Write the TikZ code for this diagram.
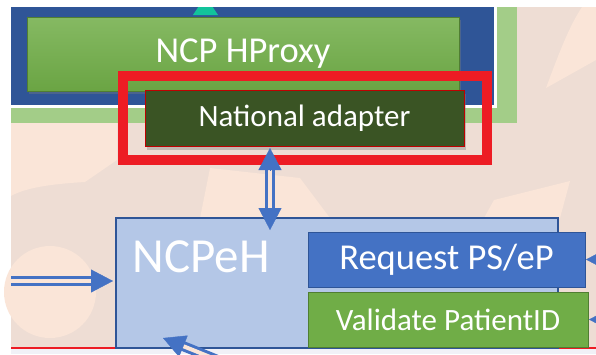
\documentclass[tikz,border=0pt]{standalone}
\usepackage{fontspec}
\setmainfont{Carlito}
\usetikzlibrary{arrows.meta,shadows,calc}
\definecolor{bgbeige}{HTML}{EEDDD4}
\definecolor{bglight}{HTML}{FAE5D8}
\definecolor{bglow}{HTML}{F1F1F7}
\definecolor{navy}{HTML}{2F5597}
\definecolor{palegreen}{HTML}{A3CD88}
\definecolor{grass}{HTML}{70AD47}
\definecolor{grassedge}{HTML}{507E32}
\definecolor{forest}{HTML}{3A5424}
\definecolor{alarm}{HTML}{ED1C24}
\definecolor{paleblue}{HTML}{B4C7E7}
\definecolor{midblue}{HTML}{4472C4}
\definecolor{tealtip}{HTML}{12C39B}
\tikzset{
  box/.style={rectangle,draw,inner sep=0pt,text=white},
  dline/.style={draw=midblue,line width=3pt,double=bglight,double distance=4pt},
  tip/.style={draw=midblue,fill=midblue,line width=0.4pt,-{Triangle[width=23pt,length=22pt]}}
}
\begin{document}
\begin{tikzpicture}[x=1pt,y=-1pt]
\useasboundingbox (0,0) rectangle (596,354);
\clip (0,0) rectangle (596,354);
% background
\fill[white] (0,0) rectangle (596,354);
\fill[bgbeige] (11,7) rectangle (596,348);
\fill[bglight] (50,292) circle (46);
\fill[bglight] (11,123) -- (117,123) -- (117,160) -- (85,182) .. controls (50,184) and (25,188) .. (11,196) -- cycle;
\fill[bglight] (546,88) .. controls (560,50) and (570,25) .. (582,7) -- (596,7) -- (596,60) -- cycle;
\fill[bglight] (484,218) -- (494,200) -- (570,181) -- (560,218) -- cycle;
\fill[bglight] (210,168) -- (300,178) -- (330,218) -- (200,218) -- cycle;
\fill[bglow] (11,349) rectangle (596,354);
\draw[alarm,line width=2pt] (11,348) -- (596,348);
% top frame
\fill[palegreen] (11,7) rectangle (517,123);
\fill[white] (11,7) rectangle (497,108);
\fill[navy] (11,7) rectangle (494,105);
\fill[tealtip] (193,15) -- (218,15) -- (205.5,-4) -- cycle;
\fill[white] (0,0) rectangle (596,7);
\node[box,draw=grassedge,top color=grass!85!white,bottom color=grass!95!black,drop shadow={opacity=0.35,shadow xshift=2pt,shadow yshift=-3pt},
  minimum width=432pt,minimum height=74pt,font=\fontsize{36.5}{40}\selectfont] (hproxy) at (243,54) {NCP HProxy};
\node[box,draw=red!75!black,fill=forest,drop shadow={opacity=0.4,shadow xshift=2pt,shadow yshift=-4pt},
  minimum width=319pt,minimum height=56pt,font=\fontsize{31}{36}\selectfont] (adapter) at (304.5,118) {National adapter};
\draw[alarm,line width=10pt] (122.5,76) rectangle (487,160);
% NCPeH
\node[box,draw=navy,line width=1.5pt,fill=paleblue,minimum width=442pt,minimum height=130pt] (ncpeh) at (337,283) {};
\node[text=white,font=\fontsize{49}{52}\selectfont] (ncpehtxt) at (201,257) {NCPeH};
\node[box,draw=navy,line width=1pt,fill=midblue,minimum width=277pt,minimum height=55pt,font=\fontsize{36.5}{40}\selectfont] (request) at (446.5,259.5) {Request PS/eP};
\node[box,draw=grassedge,line width=1pt,fill=grass,minimum width=280pt,minimum height=55pt,font=\fontsize{31}{36}\selectfont] (validate) at (448,319.5) {Validate PatientID};
% connectors
\coordinate (up) at (270,148);
\coordinate (down) at (270,230);
\draw[dline] ([yshift=-21pt]up) -- ([yshift=21pt]down);
\draw[tip] ([yshift=-22pt]up) -- (up);
\draw[tip] ([yshift=22pt]down) -- (down);
\coordinate (west) at (11,281);
\coordinate (westtip) at (113,281);
\draw[dline] (west) -- ([xshift=-21pt]westtip);
\draw[tip] ([xshift=-22pt]westtip) -- (westtip);
\coordinate (reqtip) at ([xshift=0.5pt]request.east);
\draw[tip] ([xshift=22pt]reqtip) -- (reqtip);
\coordinate (valtip) at ([xshift=0.5pt]validate.east);
\draw[tip] ([xshift=22pt]valtip) -- (valtip);
\coordinate (south) at (163,338);
\coordinate (southtail) at (240,369);
\draw[dline] ($(south)!20pt!(southtail)$) -- (southtail);
\draw[tip] ($(south)!22pt!(southtail)$) -- (south);
\end{tikzpicture}
\end{document}
